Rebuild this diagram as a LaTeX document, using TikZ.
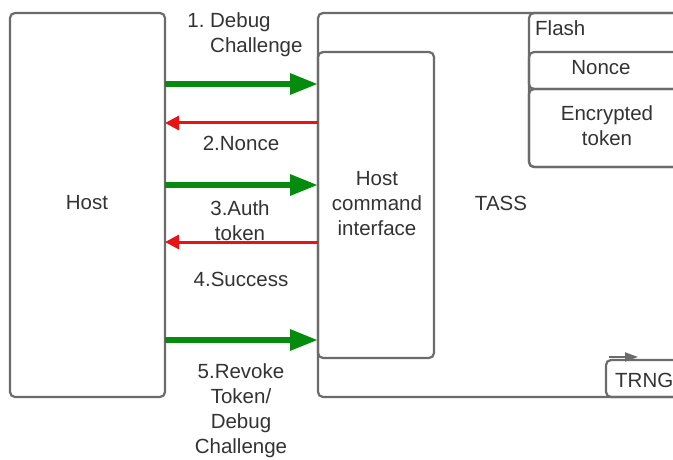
\documentclass[tikz,border=0pt]{standalone}
\usepackage{fontspec}
\setmainfont{Liberation Sans}
\usetikzlibrary{arrows.meta}
\definecolor{txt}{HTML}{333333}
\definecolor{edge}{HTML}{6B6B6B}
\definecolor{okgreen}{HTML}{058C0F}
\definecolor{nogred}{HTML}{E81414}
\tikzset{
  box/.style={draw=edge, line width=2.2pt, rounded corners=5pt},
  lbl/.style={text=txt, font=\fontsize{20.5}{25}\selectfont, align=center, inner sep=0pt},
  fwd/.style={draw=okgreen, line width=6pt, -{Triangle[length=28pt,width=20pt]}, shorten >=0pt},
  bwd/.style={draw=nogred, line width=3pt, -{Triangle[length=14pt,width=14pt]}}
}
\begin{document}
\begin{tikzpicture}[x=1pt,y=-1pt]
\useasboundingbox (0,0) rectangle (673,460);
\clip (0,0) rectangle (673,460);
\fill[white] (0,0) rectangle (673,460);
% boxes
\draw[box] (10,13) rectangle (165,397);
\node[lbl] (host) at (87,203) {Host};
\draw[box] (318,13) rectangle (720,397);
\node[lbl] (tass) at (501,203) {TASS};
\draw[box] (318,52) rectangle (434,358);
\node[lbl] (hci) at (377,204) {Host\\command\\interface};
\coordinate (hL1) at (165,84); \coordinate (hR1) at (318,84);
\coordinate (hL2) at (165,123); \coordinate (hR2) at (318,123);
\coordinate (hL3) at (165,185); \coordinate (hR3) at (318,185);
\coordinate (hL4) at (165,242); \coordinate (hR4) at (318,242);
\coordinate (hL5) at (165,340); \coordinate (hR5) at (318,340);
% flash
\draw[box] (529,13) rectangle (720,167);
\draw[box] (529,52) rectangle (720,89);
\draw[box] (529,89) rectangle (720,167);
\node[lbl, anchor=west] (flash) at (535,28) {Flash};
\node[lbl] (nonce) at (601,68) {Nonce};
\node[lbl] (enc) at (607,126) {Encrypted\\token};
% trng
\draw[box] (606,360) rectangle (720,397);
\node[lbl, anchor=west] (trng) at (615,380) {TRNG};
\coordinate (ta) at (609,357); \coordinate (tb) at (638,357);
\draw[draw=edge, line width=2pt, -{Triangle[length=13pt,width=9pt]}] (ta) -- (tb);
% arrows
\draw[fwd] (hL1) -- (hR1);
\draw[bwd] (hR2) -- (hL2);
\draw[fwd] (hL3) -- (hR3);
\draw[bwd] (hR4) -- (hL4);
\draw[fwd] (hL5) -- (hR5);
% labels
\node[lbl, align=left, anchor=west] (l1) at (210,35) {\llap{1.\ }Debug\\Challenge};
\node[lbl] (l2) at (241,143) {2.Nonce};
\node[lbl] (l3) at (240,221) {3.Auth\\token};
\node[lbl] (l4) at (241,279) {4.Success};
\node[lbl] (l5) at (241,411) {5.Revoke\\Token/\\Debug\\Challenge};
\end{tikzpicture}
\end{document}
